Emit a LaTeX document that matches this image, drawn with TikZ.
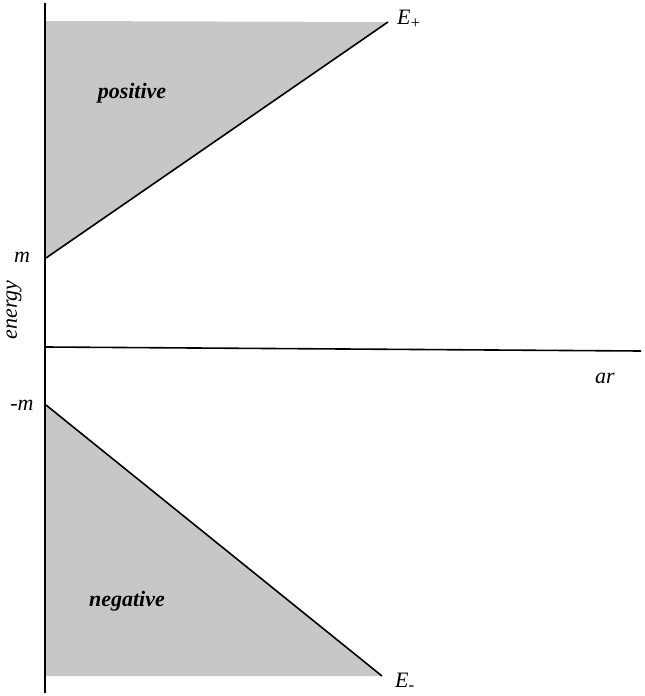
\documentclass[tikz,border=0pt]{standalone}
\usepackage{fontspec}
\setmainfont{Liberation Serif}
\begin{document}
\begin{tikzpicture}[x=1pt,y=-1pt,
  lbl/.style={font=\fontsize{22}{26}\selectfont\itshape, inner sep=0pt},
  region/.style={font=\fontsize{22}{26}\selectfont\bfseries\itshape, inner sep=0pt},
  shade/.style={fill=black!22, draw=none},
  ax/.style={line width=1.6pt, line cap=butt}]
\useasboundingbox (0,0) rectangle (645,696);
\coordinate (top) at (45,3);
\coordinate (bot) at (45,693);
\coordinate (mp) at (46,258);
\coordinate (mn) at (46,405);
\coordinate (ep) at (388,22);
\coordinate (en) at (382,676);
\coordinate (o) at (46,347);
\coordinate (xr) at (641,351);
% shaded regions
\fill[shade] (mp) -- (46,21) -- (ep) -- cycle;
\fill[shade] (mn) -- (en) -- (46,676) -- cycle;
% axes
\draw[ax] (top) -- (bot);
\draw[ax] (o) -- (xr);
% lines
\draw[ax] (mp) -- (ep);
\draw[ax] (mn) -- (en);
% labels
\node[lbl, anchor=west] (Ep) at (397,19) {E\raisebox{-0.4ex}{\upshape\fontsize{17}{17}\selectfont +}};
\node[lbl, anchor=west] (Em) at (395,682) {E\raisebox{-0.3ex}{\upshape\fontsize{17}{17}\selectfont -}};
\node[lbl] (m) at (22,257) {m};
\node[lbl] (negm) at (22,405) {-m};
\node[lbl, rotate=90] (energy) at (14,310) {energy};
\node[lbl] (ar) at (605,378) {ar};
\node[region] (pos) at (132,93) {positive};
\node[region] (neg) at (127,601) {negative};
\end{tikzpicture}
\end{document}
